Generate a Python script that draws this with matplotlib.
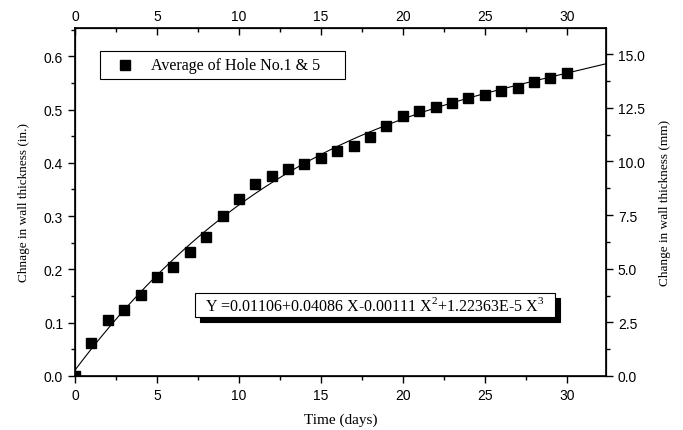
import numpy as np
import matplotlib
matplotlib.use("Agg")
import matplotlib.pyplot as plt
from matplotlib.ticker import MultipleLocator, FormatStrFormatter
from matplotlib.patches import Rectangle

days = list(range(0, 31))
change_in = [0.000, 0.061, 0.105, 0.123, 0.152, 0.185, 0.205, 0.233, 0.261, 0.301,
             0.332, 0.360, 0.376, 0.388, 0.398, 0.410, 0.423, 0.432, 0.448, 0.470,
             0.488, 0.497, 0.504, 0.512, 0.521, 0.527, 0.534, 0.541, 0.552, 0.560,
             0.568]
fit_coeffs = [0.01106, 0.04086, -0.00111, 1.22363e-5]  # c0 + c1 X + c2 X^2 + c3 X^3
legend_label = "Average of Hole No.1 & 5"
equation = r"Y =0.01106+0.04086 X-0.00111 X$^{2}$+1.22363E-5 X$^{3}$"

XMAX = 32.4
YMAX = 0.653

serif = "Liberation Serif"
sans = "Liberation Sans"
plt.rcParams["font.family"] = [sans, "DejaVu Sans"]
plt.rcParams["mathtext.fontset"] = "custom"
plt.rcParams["mathtext.rm"] = serif

fig = plt.figure(figsize=(6.83, 4.31), dpi=100)
ax = fig.add_axes([75/683, 1-377/431, (606-75)/683, (377-29)/431])

xf = np.linspace(0, XMAX, 300)
yf = np.polynomial.polynomial.polyval(xf, fit_coeffs)
ax.plot(xf, yf, color="black", lw=0.8)
ax.plot(days, change_in, "s", color="black", ms=6.5, clip_on=True)

TL = 10
ax.set_xlim(0, XMAX)
ax.set_ylim(0, YMAX)
ax.xaxis.set_major_locator(MultipleLocator(5))
ax.xaxis.set_minor_locator(MultipleLocator(2.5))
ax.yaxis.set_major_locator(MultipleLocator(0.1))
ax.yaxis.set_minor_locator(MultipleLocator(0.05))
ax.tick_params(which="major", direction="out", length=5, width=1, labelsize=TL)
ax.tick_params(which="minor", direction="out", length=3, width=1)
ax.xaxis.set_major_formatter(FormatStrFormatter("%d"))
ax.yaxis.set_major_formatter(FormatStrFormatter("%.1f"))
for s in ax.spines.values():
    s.set_linewidth(1.2)

ax.set_xlabel("Time (days)", fontfamily=serif, fontsize=11, labelpad=8)
ax.set_ylabel("Chnage in wall thickness (in.)", fontfamily=serif, fontsize=9.5, labelpad=10)

# top axis
axt = ax.twiny()
axt.set_xlim(0, XMAX)
axt.xaxis.set_major_locator(MultipleLocator(5))
axt.xaxis.set_minor_locator(MultipleLocator(2.5))
axt.tick_params(which="major", direction="in", length=5, width=1, labelsize=TL)
axt.tick_params(which="minor", direction="in", length=3, width=1)
axt.xaxis.set_major_formatter(FormatStrFormatter("%d"))

# right axis (mm)
axr = ax.twinx()
axr.set_ylim(0, YMAX * 25.4 * 0.978)
axr.yaxis.set_major_locator(MultipleLocator(2.5))
axr.yaxis.set_minor_locator(MultipleLocator(1.25))
axr.tick_params(which="major", direction="out", length=5, width=1, labelsize=TL)
axr.tick_params(which="minor", direction="out", length=3, width=1)
axr.yaxis.set_major_formatter(FormatStrFormatter("%.1f"))
axr.set_ylabel("Change in wall thickness (mm)", fontfamily=serif, fontsize=9.5, labelpad=10)

# legend box
fig.patches.append(Rectangle((100/683, 1-80/431), 245/683, 28/431, transform=fig.transFigure,
                             facecolor="white", edgecolor="black", lw=0.8))
fig.lines.append(plt.Line2D([125/683], [1-66/431], marker="s", color="black", ms=6.5,
                            transform=fig.transFigure))
fig.text(151/683, 1-66/431, legend_label, fontfamily=serif, fontsize=11.5, va="center", ha="left")

# equation box with shadow
fig.patches.append(Rectangle((200/683, 1-323/431), 360/683, 24/431, transform=fig.transFigure,
                             facecolor="black", edgecolor="black", lw=0.8))
fig.patches.append(Rectangle((195/683, 1-318/431), 360/683, 24/431, transform=fig.transFigure,
                             facecolor="white", edgecolor="black", lw=0.8))
fig.text(375/683, 1-306/431, equation, fontfamily=serif, fontsize=11.5, va="center", ha="center")

fig.savefig("out.png", dpi=100)
